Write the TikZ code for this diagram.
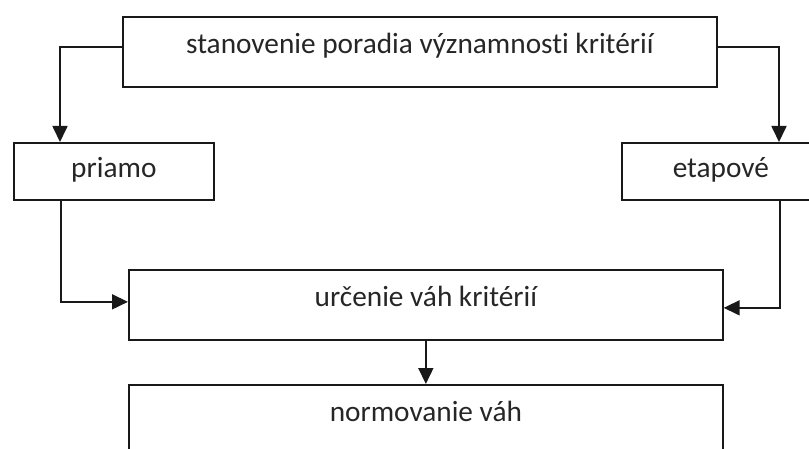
\documentclass[tikz,border=0pt]{standalone}
\usepackage{fontspec}
\setmainfont{Carlito}[Ligatures={NoCommon,NoContextual}]
\usetikzlibrary{arrows.meta}
\begin{document}
\begin{tikzpicture}[x=1pt,y=-1pt,
  box/.style={draw=black!90, line width=1.7pt, rectangle, inner sep=0pt,
    font=\fontsize{29.3}{32}\selectfont, text=black!85},
  txtmid/.style={text height=20pt, text depth=7pt},
  txthigh/.style={text height=20pt, text depth=17pt},
  arr/.style={draw=black!90, line width=1.7pt, -{Triangle[length=16pt,width=15pt]}},
  conn/.style={draw=black!90, line width=1.7pt}]
\useasboundingbox (0,0) rectangle (809,449);
\clip (0,0) rectangle (809,449);
% boxes
\node[box, txthigh, minimum width=594pt, minimum height=70pt, anchor=north west]
  (top) at (122,16) {stanovenie poradia významnosti kritérií};
\node[box, txtmid, minimum width=200pt, minimum height=57pt, anchor=north west]
  (priamo) at (13,142) {priamo};
\node[box, txtmid, minimum width=198pt, minimum height=57pt, anchor=north west]
  (etap) at (621,142) {etapové};
\node[box, txthigh, minimum width=594pt, minimum height=70pt, anchor=north west]
  (urc) at (128,269) {určenie váh kritérií};
\node[box, txthigh, minimum width=594pt, minimum height=70pt, anchor=north west]
  (norm) at (128,384) {normovanie váh};
% connectors
\draw[arr] ([yshift=5pt]top.west) -| ([xshift=47pt]priamo.north west);
\draw[arr] ([yshift=5pt]top.east) -| ([xshift=158pt]etap.north west);
\draw[arr] ([xshift=48pt]priamo.south west) |- ([yshift=3pt]urc.west);
\draw[arr] ([xshift=159pt]etap.south west) |- ([yshift=-3pt]urc.east);
\draw[arr] (urc.south) -- (urc.south |- norm.north);
\end{tikzpicture}
\end{document}
